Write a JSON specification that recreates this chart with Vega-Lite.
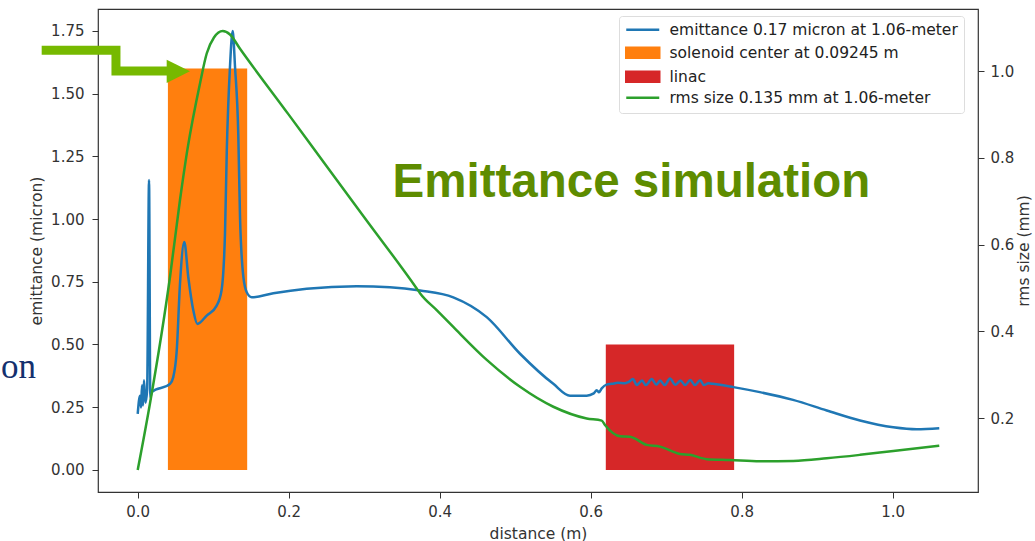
{
  "$schema": "https://vega.github.io/schema/vega-lite/v6.json",
  "width": 880,
  "height": 483,
  "autosize": "none",
  "padding": {"left": 98, "top": 9, "right": 57, "bottom": 49},
  "background": "white",
  "config": {
    "view": {"stroke": "#333", "strokeWidth": 1.2},
    "font": "DejaVu Sans",
    "axis": {"grid": false, "domain": false, "tickColor": "#333", "tickSize": 6, "labelColor": "#333", "labelFontSize": 15, "titleFontSize": 15.5, "titleFontWeight": "normal", "titleColor": "#333", "labelPadding": 6}
  },
  "datasets": {
    "emit": [
      {"d": 0, "v": 0.223}, {"d": 0.003, "v": 0.296}, {"d": 0.0044, "v": 0.249}, {"d": 0.0057, "v": 0.337},
      {"d": 0.007, "v": 0.257}, {"d": 0.0083, "v": 0.357}, {"d": 0.0103, "v": 0.268}, {"d": 0.0125, "v": 0.32},
      {"d": 0.015, "v": 1.155}, {"d": 0.0167, "v": 0.288}, {"d": 0.0185, "v": 0.31}, {"d": 0.0428, "v": 0.343},
      {"d": 0.047, "v": 0.369}, {"d": 0.0517, "v": 0.476}, {"d": 0.056, "v": 0.742}, {"d": 0.0617, "v": 0.908},
      {"d": 0.067, "v": 0.768}, {"d": 0.0737, "v": 0.635}, {"d": 0.079, "v": 0.582}, {"d": 0.0914, "v": 0.615},
      {"d": 0.1046, "v": 0.655}, {"d": 0.111, "v": 0.715}, {"d": 0.1156, "v": 0.941}, {"d": 0.118, "v": 1.274},
      {"d": 0.1222, "v": 1.606}, {"d": 0.1258, "v": 1.749}, {"d": 0.1289, "v": 1.606}, {"d": 0.1332, "v": 1.34},
      {"d": 0.1355, "v": 1.008}, {"d": 0.14, "v": 0.768}, {"d": 0.1444, "v": 0.708}, {"d": 0.151, "v": 0.688},
      {"d": 0.1796, "v": 0.704}, {"d": 0.2238, "v": 0.722}, {"d": 0.29, "v": 0.732}, {"d": 0.334, "v": 0.728},
      {"d": 0.374, "v": 0.715}, {"d": 0.418, "v": 0.688}, {"d": 0.4623, "v": 0.609}, {"d": 0.5064, "v": 0.463},
      {"d": 0.5505, "v": 0.343}, {"d": 0.5726, "v": 0.296}, {"d": 0.5947, "v": 0.296}, {"d": 0.604, "v": 0.305},
      {"d": 0.608, "v": 0.318}, {"d": 0.611, "v": 0.31}, {"d": 0.6146, "v": 0.325}, {"d": 0.621, "v": 0.34},
      {"d": 0.628, "v": 0.343}, {"d": 0.636, "v": 0.347}, {"d": 0.645, "v": 0.345}, {"d": 0.65, "v": 0.35},
      {"d": 0.656, "v": 0.362}, {"d": 0.661, "v": 0.338}, {"d": 0.668, "v": 0.356}, {"d": 0.673, "v": 0.338},
      {"d": 0.681, "v": 0.362}, {"d": 0.687, "v": 0.339}, {"d": 0.692, "v": 0.356}, {"d": 0.698, "v": 0.338},
      {"d": 0.705, "v": 0.364}, {"d": 0.712, "v": 0.339}, {"d": 0.719, "v": 0.356}, {"d": 0.725, "v": 0.338},
      {"d": 0.732, "v": 0.358}, {"d": 0.738, "v": 0.338}, {"d": 0.745, "v": 0.357}, {"d": 0.75, "v": 0.338},
      {"d": 0.756, "v": 0.345}, {"d": 0.762, "v": 0.343}, {"d": 0.789, "v": 0.33}, {"d": 0.824, "v": 0.31},
      {"d": 0.868, "v": 0.279}, {"d": 0.9126, "v": 0.237}, {"d": 0.9567, "v": 0.197}, {"d": 1.0008, "v": 0.17},
      {"d": 1.0318, "v": 0.162}, {"d": 1.0617, "v": 0.166}
    ],
    "rms": [
      {"d": 0, "v": 0.08}, {"d": 0.0163, "v": 0.234}, {"d": 0.0428, "v": 0.526}, {"d": 0.056, "v": 0.703},
      {"d": 0.0657, "v": 0.818}, {"d": 0.0825, "v": 0.972}, {"d": 0.0914, "v": 1.041}, {"d": 0.101, "v": 1.078},
      {"d": 0.1126, "v": 1.093}, {"d": 0.1222, "v": 1.085}, {"d": 0.1355, "v": 1.052}, {"d": 0.2, "v": 0.9},
      {"d": 0.25, "v": 0.7814}, {"d": 0.3, "v": 0.6633}, {"d": 0.3695, "v": 0.499}, {"d": 0.3739, "v": 0.488},
      {"d": 0.396, "v": 0.449}, {"d": 0.418, "v": 0.41}, {"d": 0.4623, "v": 0.334}, {"d": 0.5064, "v": 0.272},
      {"d": 0.5505, "v": 0.226}, {"d": 0.5947, "v": 0.199}, {"d": 0.6146, "v": 0.194}, {"d": 0.6189, "v": 0.184},
      {"d": 0.6388, "v": 0.158}, {"d": 0.652, "v": 0.157}, {"d": 0.674, "v": 0.138}, {"d": 0.6917, "v": 0.134},
      {"d": 0.7183, "v": 0.117}, {"d": 0.7315, "v": 0.115}, {"d": 0.7536, "v": 0.105}, {"d": 0.7845, "v": 0.103},
      {"d": 0.8242, "v": 0.1}, {"d": 0.8684, "v": 0.101}, {"d": 0.9126, "v": 0.107}, {"d": 0.9567, "v": 0.115},
      {"d": 1.0008, "v": 0.124}, {"d": 1.0617, "v": 0.136}
    ],
    "bars": [
      {"start": 0.04, "end": 0.145, "top": 1.6, "label": "solenoid center at 0.09245 m"},
      {"start": 0.62, "end": 0.79, "top": 0.5, "label": "linac"}
    ],
    "arrow": [
      {"i": 1, "d": -0.1272, "v": 1.6724},
      {"i": 2, "d": -0.0288, "v": 1.6724},
      {"i": 3, "d": -0.0288, "v": 1.5899},
      {"i": 4, "d": 0.0401, "v": 1.5899}
    ]
  },
  "layer": [
    {
      "layer": [
        {
          "data": {"name": "bars"},
          "mark": {"type": "rect"},
          "encoding": {
            "x": {"field": "start", "type": "quantitative", "title": "distance (m)",
                  "scale": {"domain": [-0.0526, 1.113], "nice": false, "zero": false},
                  "axis": {"values": [0, 0.2, 0.4, 0.6, 0.8, 1.0], "format": ".1f", "titlePadding": 7}},
            "x2": {"field": "end"},
            "y": {"field": "top", "type": "quantitative", "title": "emittance (micron)",
                  "scale": {"domain": [-0.088, 1.837], "nice": false, "zero": false},
                  "axis": {"values": [0, 0.25, 0.5, 0.75, 1.0, 1.25, 1.5, 1.75], "format": ".2f", "orient": "left", "labelPadding": 8, "titlePadding": 6}},
            "y2": {"datum": 0},
            "color": {
              "field": "label", "type": "nominal",
              "scale": {"domain": ["emittance 0.17 micron at 1.06-meter", "solenoid center at 0.09245 m", "linac", "rms size 0.135 mm at 1.06-meter"],
                        "range": ["#1f77b4", "#ff7f0e", "#d62728", "#2ca02c"]},
              "legend": {
                "orient": "none", "legendX": 521, "legendY": 7, "title": null,
                "labelFontSize": 15.5, "labelColor": "#222", "labelFont": "DejaVu Sans", "labelLimit": 0,
                "fillColor": "white", "strokeColor": "#ddd", "cornerRadius": 3, "padding": 6,
                "rowPadding": 3, "symbolSize": 100, "symbolStrokeWidth": 2.5, "labelOffset": 29,
                "encode": {
                  "symbols": {
                    "update": {
                      "shape": {"signal": "(datum.value == 'linac' || datum.value == 'solenoid center at 0.09245 m') ? 'M-1.3,-1H5.3V1H-1.3Z' : 'M-1.3,0H5.3'"},
                      "fill": {"signal": "(datum.value == 'linac' || datum.value == 'solenoid center at 0.09245 m') ? scale('color', datum.value) : 'transparent'"},
                      "stroke": {"signal": "(datum.value == 'linac' || datum.value == 'solenoid center at 0.09245 m') ? 'transparent' : scale('color', datum.value)"},
                      "strokeWidth": {"value": 2.5},
                      "opacity": {"value": 1},
                      "fillOpacity": {"value": 1}
                    }
                  }
                }
              }
            }
          }
        },
        {
          "data": {"name": "emit"},
          "mark": {"type": "line", "strokeWidth": 2.5, "interpolate": "monotone"},
          "encoding": {
            "x": {"field": "d", "type": "quantitative"},
            "y": {"field": "v", "type": "quantitative"},
            "color": {"datum": "emittance 0.17 micron at 1.06-meter"}
          }
        },
        {
          "data": {"name": "arrow"},
          "mark": {"type": "line", "strokeWidth": 9, "color": "#76b900", "strokeCap": "butt", "strokeJoin": "miter"},
          "encoding": {
            "x": {"field": "d", "type": "quantitative"},
            "y": {"field": "v", "type": "quantitative"},
            "order": {"field": "i", "type": "quantitative"}
          }
        },
        {
          "data": {"values": [{}]},
          "mark": {"type": "point", "shape": "M-1,-1L1,0L-1,1Z", "filled": true, "size": 543, "color": "#76b900", "opacity": 1},
          "encoding": {
            "x": {"datum": 0.0538},
            "y": {"datum": 1.5887}
          }
        },
        {
          "data": {"values": [{}]},
          "mark": {"type": "text", "font": "Liberation Sans", "fontWeight": "bold", "fontSize": 47.5, "color": "#5e8c00", "align": "center", "baseline": "alphabetic"},
          "encoding": {
            "x": {"datum": 0.654},
            "y": {"datum": 1.0877},
            "text": {"value": "Emittance simulation"}
          }
        },
        {
          "data": {"values": [{}]},
          "mark": {"type": "text", "font": "Liberation Serif", "fontSize": 35, "color": "#14306e", "align": "right", "baseline": "alphabetic"},
          "encoding": {
            "x": {"datum": -0.1347},
            "y": {"datum": 0.3664},
            "text": {"value": "on"}
          }
        }
      ]
    },
    {
      "data": {"name": "rms"},
      "mark": {"type": "line", "strokeWidth": 2.5, "interpolate": "monotone"},
      "encoding": {
        "x": {"field": "d", "type": "quantitative"},
        "y": {"field": "v", "type": "quantitative", "title": "rms size (mm)",
              "scale": {"domain": [0.0293, 1.1437], "nice": false, "zero": false},
              "axis": {"orient": "right", "values": [0.2, 0.4, 0.6, 0.8, 1.0], "format": ".1f", "titleAngle": 270, "titleBaseline": "top", "titlePadding": 3}},
        "color": {"datum": "rms size 0.135 mm at 1.06-meter"}
      }
    }
  ],
  "resolve": {"scale": {"y": "independent"}}
}
